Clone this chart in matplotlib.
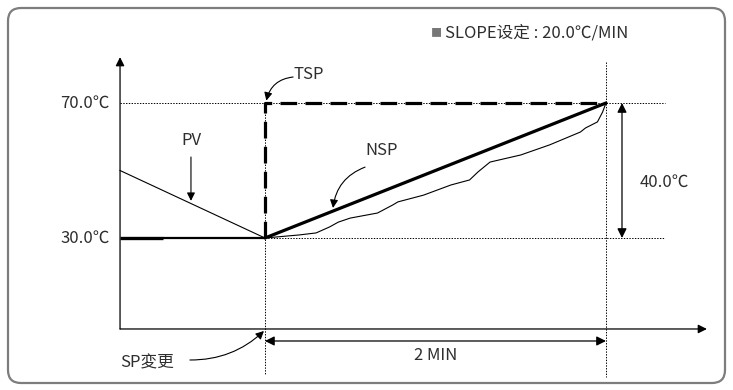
import matplotlib
matplotlib.use("Agg")
import matplotlib.pyplot as plt
from matplotlib.patches import FancyBboxPatch

plt.rcParams['font.family'] = ['Noto Sans CJK SC', 'DejaVu Sans']
plt.rcParams['lines.scale_dashes'] = False

# ---- data (time in minutes relative to SP change, temperature in degC) ----
t_start = -0.85
t_end = 2.0
sp_old = 30.0
sp_new = 70.0
pv_start_temp = 50.0

pv_before_t = [t_start, 0.0]
pv_before_T = [pv_start_temp, sp_old]

pv_after_t = [0, 0.2, 0.3, 0.38, 0.43, 0.5, 0.66, 0.75, 0.78, 0.93, 1.09, 1.2,
              1.25, 1.32, 1.5, 1.67, 1.85, 1.88, 1.95, 1.98, 2.0]
pv_after_T = [30, 30.9, 31.5, 33.3, 34.7, 35.9, 37.4, 39.8, 40.7, 42.7, 45.7, 47.2,
              49.6, 52.5, 54.6, 57.6, 61.4, 62.6, 64.4, 67.3, 70]

nsp_t = [0.0, 2.0]
nsp_T = [30.0, 70.0]

tsp_t = [0.0, 0.0, 2.0]
tsp_T = [30.0, 70.0, 70.0]

ytick_vals = [70.0, 30.0]
ytick_labels = ["70.0℃", "30.0℃"]
slope_text = "SLOPE设定 : 20.0℃/MIN"
delta_label = "40.0℃"
time_label = "2 MIN"
sp_change_label = "SP変更"

TXT = '#2e2e2e'
FS = 12

fig = plt.figure(figsize=(7.33, 3.90), dpi=100)
ax = fig.add_axes([0, 0, 1, 1])
ax.set_xlim(-1.554, 2.745)
ax.set_ylim(-15.04, 100.52)
ax.axis('off')

# border (pixel overlay axes)
bx = fig.add_axes([0, 0, 1, 1], zorder=-1)
bx.set_xlim(0, 733)
bx.set_ylim(390, 0)
bx.axis('off')
bx.add_patch(FancyBboxPatch((8, 8), 717, 375, boxstyle="round,pad=0,rounding_size=13",
                            fill=False, edgecolor='#7d7d7d', linewidth=1.6))

y_axis_T = 3.04
# axes arrows
ax.annotate('', xy=(2.592, y_axis_T), xytext=(t_start, y_axis_T),
            arrowprops=dict(arrowstyle='-|>', color='black', lw=0.9, mutation_scale=13,
                            shrinkA=0, shrinkB=0))
ax.annotate('', xy=(t_start, 83.6), xytext=(t_start, y_axis_T),
            arrowprops=dict(arrowstyle='-|>', color='black', lw=0.9, mutation_scale=13,
                            shrinkA=0, shrinkB=0))

dot = dict(color='black', lw=0.7, linestyle=(0, (1, 1)))
# dotted guides
ax.plot([t_start, 2.345], [sp_new, sp_new], **dot)
ax.plot([0, 2.345], [sp_old, sp_old], **dot)
ax.plot([0, 0], [sp_new, -10.5], **dot)
ax.plot([2.0, 2.0], [82.2, -11.1], **dot)

# old setpoint line
ax.plot([t_start, -0.6], [sp_old, sp_old], color='black', lw=2.4, solid_capstyle='butt')
ax.plot([-0.6, 0], [sp_old, sp_old], color='black', lw=1.6, solid_capstyle='butt')

# PV before
ax.plot(pv_before_t, pv_before_T, color='black', lw=0.8)
# PV after
ax.plot(pv_after_t, pv_after_T, color='black', lw=0.8, solid_joinstyle='round')
# NSP
ax.plot(nsp_t, nsp_T, color='black', lw=2.3, solid_capstyle='round')
# TSP
ax.plot(tsp_t, tsp_T, color='black', lw=2.3, linestyle=(0, (12, 6)), dash_capstyle='butt')

# y labels
for v, lab in zip(ytick_vals, ytick_labels):
    ax.text(-0.91, v, lab, ha='right', va='center', fontsize=FS, color=TXT)

# 40 degC arrow
ax.annotate('', xy=(2.094, sp_new), xytext=(2.094, sp_old),
            arrowprops=dict(arrowstyle='<|-|>', color='black', lw=0.9, mutation_scale=14,
                            shrinkA=0, shrinkB=0))
ax.text(2.195, 46.6, delta_label, ha='left', va='center', fontsize=FS, color=TXT)

# 2 MIN arrow
ax.annotate('', xy=(2.0, -0.52), xytext=(0.0, -0.52),
            arrowprops=dict(arrowstyle='<|-|>', color='black', lw=0.9, mutation_scale=14,
                            shrinkA=0, shrinkB=0))
ax.text(1.0, -4.9, time_label, ha='center', va='center', fontsize=FS, color=TXT)

# SP change label
ax.text(t_start, -6.9, sp_change_label, ha='left', va='center', fontsize=FS, color=TXT)
ax.annotate('', xy=(-0.006, 2.44), xytext=(-0.44, -6.15),
            arrowprops=dict(arrowstyle='-|>', color='black', lw=0.8, mutation_scale=12,
                            shrinkA=0, shrinkB=0, connectionstyle='arc3,rad=0.2'))

# TSP label
ax.text(0.17, 78.3, "TSP", ha='left', va='center', fontsize=FS, color=TXT)
ax.annotate('', xy=(0.008, 70.7), xytext=(0.165, 77.7),
            arrowprops=dict(arrowstyle='-|>', color='black', lw=0.8, mutation_scale=12,
                            shrinkA=0, shrinkB=0, connectionstyle='arc3,rad=0.35'))

# PV label
ax.text(-0.434, 59.0, "PV", ha='center', va='center', fontsize=FS, color=TXT)
ax.annotate('', xy=(-0.434, 41.0), xytext=(-0.434, 54.0),
            arrowprops=dict(arrowstyle='-|>', color='black', lw=0.8, mutation_scale=12,
                            shrinkA=0, shrinkB=0))

# NSP label
ax.text(0.686, 55.8, "NSP", ha='center', va='center', fontsize=FS, color=TXT)
ax.annotate('', xy=(0.399, 38.9), xytext=(0.587, 51.0),
            arrowprops=dict(arrowstyle='-|>', color='black', lw=0.8, mutation_scale=12,
                            shrinkA=0, shrinkB=0, connectionstyle='arc3,rad=0.3'))

# slope header
ax.text(0.975, 90.7, "■", ha='left', va='center', fontsize=8, color='#777777')
ax.text(1.053, 90.7, slope_text, ha='left', va='center', fontsize=FS, color=TXT)

fig.savefig('out.png', dpi=100)
